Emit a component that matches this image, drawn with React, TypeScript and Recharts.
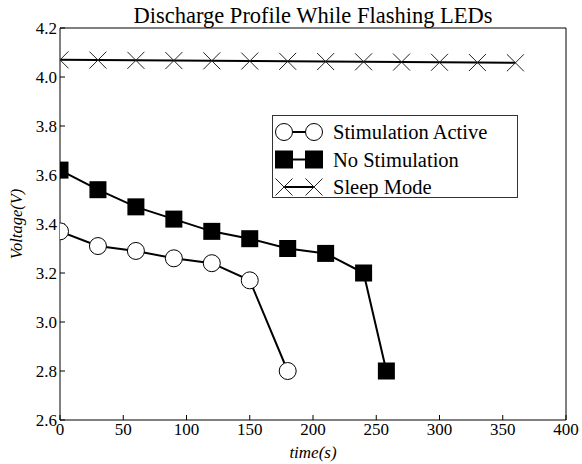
import React from "react";
import { LineChart, Line, XAxis, YAxis, Legend } from "recharts";

// time (s) and voltage (V)
const activeTime = [0, 30, 60, 90, 120, 150, 180];
const activeVolts = [3.37, 3.31, 3.29, 3.26, 3.24, 3.17, 2.8];

const noStimTime = [0, 30, 60, 90, 120, 150, 180, 210, 240, 258];
const noStimVolts = [3.62, 3.54, 3.47, 3.42, 3.37, 3.34, 3.3, 3.28, 3.2, 2.8];

const sleepTime = [0, 30, 60, 90, 120, 150, 180, 210, 240, 270, 300, 330, 360];
const sleepVolts = [4.07, 4.069, 4.068, 4.067, 4.066, 4.065, 4.064, 4.063, 4.062, 4.061, 4.06, 4.059, 4.058];

const xTicks = [0, 50, 100, 150, 200, 250, 300, 350, 400];
const yTicks = [2.6, 2.8, 3.0, 3.2, 3.4, 3.6, 3.8, 4.0, 4.2];

// DejaVu Serif isn't available here, Liberation Serif is the closest serif we have
const SERIF = "Liberation Serif";

const zip = (ts: number[], vs: number[]) => ts.map((t, i) => ({ t, v: vs[i] }));

const activeData = zip(activeTime, activeVolts);
const noStimData = zip(noStimTime, noStimVolts);
const sleepData = zip(sleepTime, sleepVolts);

const CircleDot = (p: any) => (
  <circle key={`c-${p.index}`} cx={p.cx} cy={p.cy} r={8.5} fill="#fff" stroke="#000" strokeWidth={1} />
);

const SquareDot = (p: any) => (
  <rect key={`s-${p.index}`} x={p.cx - 8.5} y={p.cy - 8.5} width={17} height={17} fill="#000" />
);

const CrossDot = (p: any) => (
  <path
    key={`x-${p.index}`}
    d={`M${p.cx - 8.5},${p.cy - 8.5}L${p.cx + 8.5},${p.cy + 8.5}M${p.cx - 8.5},${p.cy + 8.5}L${p.cx + 8.5},${p.cy - 8.5}`}
    stroke="#222"
    strokeWidth={1}
    fill="none"
  />
);

const legendItems = ["Stimulation Active", "No Stimulation", "Sleep Mode"];

const LegendBox = () => (
  <svg width={246} height={83} style={{ display: "block" }}>
    <rect x={0.5} y={0.5} width={245} height={82} fill="#fff" stroke="#333" />
    {legendItems.map((name, i) => {
      const cy = 17 + i * 27.5;
      const a = 12;
      const b = 42;
      return (
        <g key={name}>
          <line x1={a} y1={cy} x2={b} y2={cy} stroke="#000" strokeWidth={2} />
          {i === 0 && (
            <>
              <circle cx={a} cy={cy} r={8.5} fill="#fff" stroke="#000" />
              <circle cx={b} cy={cy} r={8.5} fill="#fff" stroke="#000" />
            </>
          )}
          {i === 1 &&
            [a, b].map((x) => <rect key={x} x={x - 9} y={cy - 9} width={18} height={18} fill="#000" />)}
          {i === 2 &&
            [a, b].map((x) => (
              <path
                key={x}
                d={`M${x - 8.5},${cy - 8.5}L${x + 8.5},${cy + 8.5}M${x - 8.5},${cy + 8.5}L${x + 8.5},${cy - 8.5}`}
                stroke="#222"
                fill="none"
              />
            ))}
          <text x={61} y={cy} dy="0.35em" fontFamily={SERIF} fontSize={20.5} fill="#000">
            {name}
          </text>
        </g>
      );
    })}
  </svg>
);

const tickStyle = { fontFamily: SERIF, fontSize: 17, fill: "#000" };
const fmt = (v: number) => v.toFixed(1);
const fmtX = (v: number) => String(v);
const blank = () => "";

export default function App() {
  return (
    <div style={{ position: "absolute", left: 0, top: 0, background: "#fff", fontFamily: SERIF }}>
      <LineChart width={582} height={464} margin={{ top: 27, right: 15, left: 0, bottom: 0 }}>
        <XAxis
          dataKey="t"
          type="number"
          domain={[0, 400]}
          ticks={xTicks}
          tickFormatter={fmtX}
          allowDataOverflow
          height={44}
          tickSize={-5}
          tickMargin={8}
          tick={tickStyle}
          axisLine={{ stroke: "#000" }}
          tickLine={{ stroke: "#000" }}
          label={{
            value: "time(s)",
            position: "insideBottom",
            offset: 6,
            style: { fontFamily: SERIF, fontStyle: "italic", fontSize: 17, fill: "#000" },
          }}
        />
        <XAxis
          xAxisId="top"
          orientation="top"
          type="number"
          domain={[0, 400]}
          ticks={xTicks}
          tickFormatter={blank}
          height={1}
          tickSize={-5}
          axisLine={{ stroke: "#000" }}
          tickLine={{ stroke: "#000" }}
          label={{
            value: "Discharge Profile While Flashing LEDs",
            position: "top",
            offset: 4,
            style: { fontFamily: SERIF, fontSize: 22.5, fill: "#000" },
          }}
        />
        <YAxis
          type="number"
          domain={[2.6, 4.2]}
          ticks={yTicks}
          tickFormatter={fmt}
          allowDataOverflow
          width={60}
          tickSize={-5}
          tickMargin={8}
          tick={tickStyle}
          axisLine={{ stroke: "#000" }}
          tickLine={{ stroke: "#000" }}
          label={{
            value: "Voltage(V)",
            angle: -90,
            position: "insideLeft",
            offset: 16,
            style: { fontFamily: SERIF, fontStyle: "italic", fontSize: 16.5, fill: "#000", textAnchor: "middle" },
          }}
        />
        <YAxis
          yAxisId="right"
          orientation="right"
          type="number"
          domain={[2.6, 4.2]}
          ticks={yTicks}
          tickFormatter={blank}
          width={1}
          tickSize={-5}
          axisLine={{ stroke: "#000" }}
          tickLine={{ stroke: "#000" }}
        />
        <Legend
          layout="vertical"
          align="center"
          verticalAlign="middle"
          content={<LegendBox />}
          wrapperStyle={{ left: 272, top: 115, width: 246, height: 83 }}
        />
        <Line
          data={sleepData}
          dataKey="v"
          name="Sleep Mode"
          type="linear"
          stroke="#000"
          strokeWidth={2}
          dot={CrossDot}
          activeDot={false}
          isAnimationActive={false}
        />
        <Line
          data={noStimData}
          dataKey="v"
          name="No Stimulation"
          type="linear"
          stroke="#000"
          strokeWidth={2}
          dot={SquareDot}
          activeDot={false}
          isAnimationActive={false}
        />
        <Line
          data={activeData}
          dataKey="v"
          name="Stimulation Active"
          type="linear"
          stroke="#000"
          strokeWidth={2}
          dot={CircleDot}
          activeDot={false}
          isAnimationActive={false}
        />
      </LineChart>
    </div>
  );
}
